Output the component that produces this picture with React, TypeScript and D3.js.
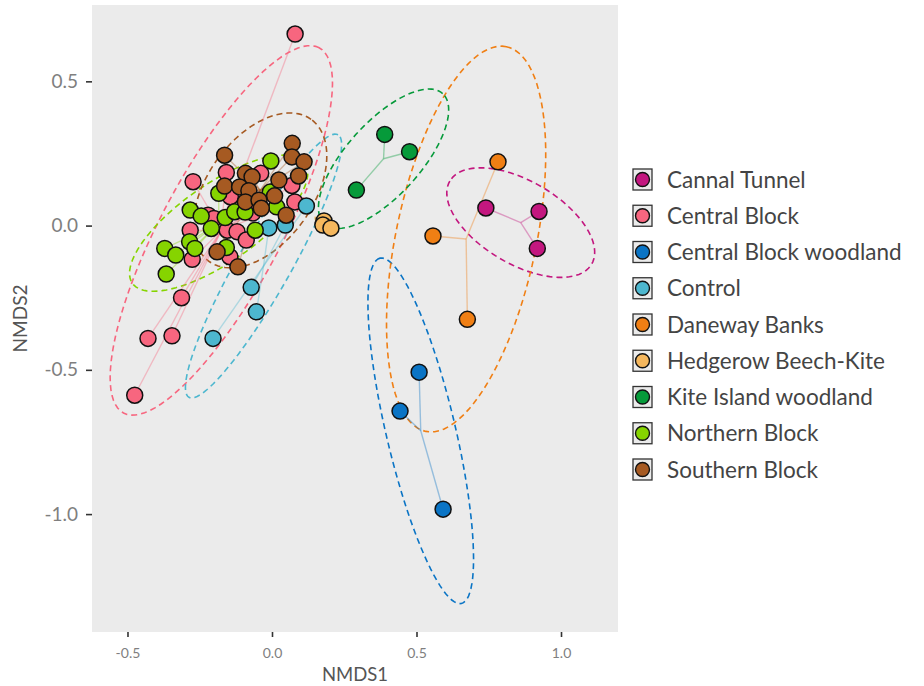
import React, { useEffect, useRef } from 'react';
import * as d3 from 'd3';

// site groups, in legend order
const groups = [
  'Cannal Tunnel',
  'Central Block',
  'Central Block woodland',
  'Control',
  'Daneway Banks',
  'Hedgerow Beech-Kite',
  'Kite Island woodland',
  'Northern Block',
  'Southern Block'
];
const groupColors = [
  '#c3177f', '#f7667f', '#0a74c5', '#4db7cf', '#f07f14',
  '#f5b75d', '#069a3a', '#86d400', '#a65a22'
];

// NMDS scores per group: [NMDS1, NMDS2]
const cannalTunnel = [[0.740, 0.061], [0.924, 0.049], [0.918, -0.079]];
const centralBlock = [
  [0.080, 0.664], [-0.273, 0.152], [-0.158, 0.184], [-0.039, 0.181], [0.069, 0.139],
  [-0.144, 0.100], [-0.066, 0.044], [0.079, 0.082], [-0.221, 0.036], [-0.201, 0.025],
  [-0.283, -0.016], [-0.155, -0.016], [-0.121, -0.021], [-0.089, -0.050], [-0.146, -0.108],
  [-0.276, -0.117], [-0.313, -0.250], [-0.429, -0.391], [-0.346, -0.382], [-0.475, -0.588]
];
const centralBlockWoodland = [[0.509, -0.508], [0.443, -0.643], [0.592, -0.983]];
const control = [
  [0.119, 0.068], [-0.011, -0.008], [0.046, 0.002], [-0.072, -0.214], [-0.054, -0.299], [-0.204, -0.391]
];
const danewayBanks = [[0.782, 0.221], [0.557, -0.036], [0.676, -0.325]];
const hedgerow = [[0.180, 0.016], [0.176, 0.002], [0.204, -0.009]];
const kiteIsland = [[0.390, 0.316], [0.476, 0.256], [0.292, 0.123]];
const northernBlock = [
  [-0.004, 0.224], [-0.184, 0.112], [-0.006, 0.116], [0.016, 0.065], [-0.283, 0.054],
  [-0.245, 0.033], [-0.162, 0.028], [-0.129, 0.048], [-0.093, 0.047], [-0.210, -0.010],
  [-0.058, -0.016], [-0.285, -0.056], [-0.267, -0.079], [-0.371, -0.079], [-0.333, -0.102],
  [-0.158, -0.076], [-0.366, -0.168]
];
const southernBlock = [
  [0.070, 0.285], [-0.164, 0.244], [0.069, 0.238], [0.111, 0.221], [-0.092, 0.181],
  [-0.069, 0.169], [0.024, 0.158], [0.092, 0.172], [-0.164, 0.137], [-0.112, 0.134],
  [-0.080, 0.121], [0.009, 0.103], [-0.092, 0.082], [-0.045, 0.088], [-0.037, 0.060],
  [0.049, 0.036], [-0.190, -0.091], [-0.118, -0.143]
];
const groupPoints = [
  cannalTunnel, centralBlock, centralBlockWoodland, control, danewayBanks,
  hedgerow, kiteIsland, northernBlock, southernBlock
];

const xTicks = [-0.5, 0, 0.5, 1];
const yTicks = [0.5, 0, -0.5, -1];

// 95% sd ellipse, like vegan's ordiellipse(kind = "sd", conf = 0.95)
const covEllipse = (pts: number[][], n = 100) => {
  const k = pts.length;
  const mx = d3.mean(pts, p => p[0])!;
  const my = d3.mean(pts, p => p[1])!;
  let sxx = 0, syy = 0, sxy = 0;
  pts.forEach(p => {
    sxx += (p[0] - mx) ** 2;
    syy += (p[1] - my) ** 2;
    sxy += (p[0] - mx) * (p[1] - my);
  });
  sxx /= k - 1; syy /= k - 1; sxy /= k - 1;
  const tr = (sxx + syy) / 2;
  const disc = Math.sqrt(((sxx - syy) / 2) ** 2 + sxy ** 2);
  const l1 = tr + disc, l2 = Math.max(tr - disc, 0);
  const ang = Math.atan2(l1 - sxx, sxy || 1e-12);
  const scale = Math.sqrt(5.991);
  const a = scale * Math.sqrt(l1), b = scale * Math.sqrt(l2);
  return d3.range(n).map(i => {
    const t = (i / n) * 2 * Math.PI;
    const u = a * Math.cos(t), v = b * Math.sin(t);
    return [mx + u * Math.cos(ang) - v * Math.sin(ang), my + u * Math.sin(ang) + v * Math.cos(ang)];
  });
};

const fmt = (d: number) => d.toFixed(1);

export default function App() {
  const ref = useRef<SVGSVGElement>(null);

  useEffect(() => {
    const svg = d3.select(ref.current);
    svg.selectAll('*').remove();

    const panel = { left: 92, right: 618, top: 5, bottom: 632 };
    const x = d3.scaleLinear().domain([-0.6228, 1.1972]).range([panel.left, panel.right]);
    const y = d3.scaleLinear().domain([0.7646, -1.4087]).range([panel.top, panel.bottom]);

    svg.append('rect')
      .attr('x', panel.left).attr('y', panel.top)
      .attr('width', panel.right - panel.left).attr('height', panel.bottom - panel.top)
      .attr('fill', '#ebebeb');

    const font = 'Lato, "Open Sans", sans-serif';

    // axes
    const xAxis = svg.append('g').attr('transform', `translate(0,${panel.bottom})`)
      .call(d3.axisBottom(x).tickValues(xTicks).tickFormat(fmt as any).tickSize(5).tickPadding(11));
    xAxis.select('.domain').remove();
    xAxis.selectAll('line').attr('stroke', '#333').attr('stroke-width', 1.6);
    xAxis.selectAll('text').attr('fill', '#7f7f7f').attr('font-size', 14).attr('font-family', font);

    const yAxis = svg.append('g').attr('transform', `translate(${panel.left},0)`)
      .call(d3.axisLeft(y).tickValues(yTicks).tickFormat(fmt as any).tickSize(6).tickPadding(8));
    yAxis.select('.domain').remove();
    yAxis.selectAll('line').attr('stroke', '#333').attr('stroke-width', 1.6);
    yAxis.selectAll('text').attr('fill', '#7f7f7f').attr('font-size', 19).attr('font-family', font);

    svg.append('text')
      .attr('x', (panel.left + panel.right) / 2).attr('y', 681)
      .attr('text-anchor', 'middle').attr('font-size', 18.5).attr('fill', '#555')
      .attr('font-family', font).text('NMDS1');
    svg.append('text')
      .attr('transform', `translate(27,${(panel.top + panel.bottom) / 2}) rotate(-90)`)
      .attr('text-anchor', 'middle').attr('font-size', 19).attr('fill', '#555')
      .attr('font-family', font).text('NMDS2');

    const plot = svg.append('g');
    const path = d3.line().x(d => x(d[0])).y(d => y(d[1])).curve(d3.curveLinearClosed);

    // ellipses
    groupPoints.forEach((pts, gi) => {
      if (pts.length < 3) return;
      plot.append('path')
        .attr('d', path(covEllipse(pts) as [number, number][]))
        .attr('fill', 'none')
        .attr('stroke', groupColors[gi])
        .attr('stroke-width', 1.6)
        .attr('stroke-dasharray', '6,4');
    });

    // spiders to group centroid
    groupPoints.forEach((pts, gi) => {
      const cx = d3.mean(pts, p => p[0])!;
      const cy = d3.mean(pts, p => p[1])!;
      plot.append('g').selectAll('line').data(pts).join('line')
        .attr('x1', x(cx)).attr('y1', y(cy))
        .attr('x2', d => x(d[0])).attr('y2', d => y(d[1]))
        .attr('stroke', groupColors[gi])
        .attr('stroke-opacity', 0.38)
        .attr('stroke-width', 1.4);
    });

    // points
    groupPoints.forEach((pts, gi) => {
      plot.append('g').selectAll('circle').data(pts).join('circle')
        .attr('cx', d => x(d[0])).attr('cy', d => y(d[1]))
        .attr('r', 8)
        .attr('fill', groupColors[gi])
        .attr('stroke', '#111')
        .attr('stroke-width', 1.5);
    });

    // legend
    const legend = svg.append('g').attr('transform', 'translate(632,168)');
    const rowH = 36.25;
    groups.forEach((g, i) => {
      const row = legend.append('g').attr('transform', `translate(0,${i * rowH})`);
      row.append('rect')
        .attr('x', 1).attr('y', 1).attr('width', 19).attr('height', 21)
        .attr('fill', '#ebebeb').attr('stroke', '#333').attr('stroke-width', 1.3);
      row.append('circle')
        .attr('cx', 10.5).attr('cy', 11.5).attr('r', 7)
        .attr('fill', groupColors[i]).attr('stroke', '#111').attr('stroke-width', 1.4);
      row.append('text')
        .attr('x', 35).attr('y', 19.5)
        .attr('font-size', 22.5).attr('fill', '#444')
        .attr('font-family', font).text(g);
    });
  }, []);

  return (
    <svg
      ref={ref}
      width={924}
      height={686}
      style={{ display: 'block', position: 'absolute', left: 0, top: 0 }}
    />
  );
}
